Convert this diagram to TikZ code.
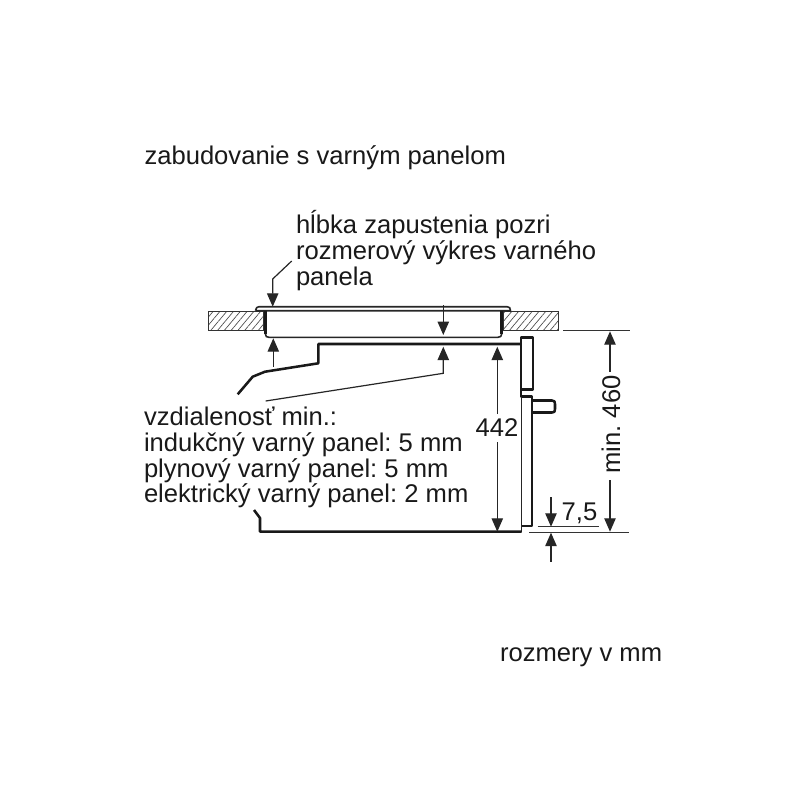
\documentclass[tikz,border=0pt]{standalone}
\usepackage{fontspec}
\setmainfont{Liberation Sans}
\usetikzlibrary{patterns.meta,arrows.meta}
\tikzset{
  lbl/.style={font=\fontsize{19.2pt}{23pt}\selectfont\frenchspacing,text=black!90,inner sep=0pt,outer sep=0pt},
  body/.style={draw=black!90,line width=1.9pt,line join=round},
  panline/.style={draw=black!85,line width=1.2pt,line join=round},
  thin/.style={draw=black!80,line width=0.9pt},
  dim/.style={draw=black!85,line width=0.9pt},
  tip/.style={-{Triangle[length=10pt,width=8.5pt]}},
  hatchbox/.style={draw=black!80,line width=0.8pt,pattern={Lines[angle=50,distance=3.9pt,line width=0.5pt]},pattern color=black!70}
}
\begin{document}
\begin{tikzpicture}[x=0.75pt,y=-0.75pt]
\useasboundingbox (0,0) rectangle (800,800);
\fill[white] (0,0) rectangle (800,800);
\node[lbl,anchor=base west] (title) at (144.5,164) {zabudovanie s varným panelom};
\node[lbl,anchor=base west] (t1) at (296,233) {hĺbka zapustenia pozri};
\node[lbl,anchor=base west] (t2) at (296,259) {rozmerový výkres varného};
\node[lbl,anchor=base west] (t3) at (296,285) {panela};
\node[lbl,anchor=base west] (v1) at (144,425) {vzdialenosť min.:};
\node[lbl,anchor=base west] (v2) at (144,451) {indukčný varný panel: 5 mm};
\node[lbl,anchor=base west] (v3) at (144,477) {plynový varný panel: 5 mm};
\node[lbl,anchor=base west] (v4) at (144,502.5) {elektrický varný panel: 2 mm};
\node[lbl,anchor=base west] (unit) at (500,661) {rozmery v mm};
\node[lbl,anchor=center] (d442) at (497,428) {442};
\node[lbl,anchor=center,rotate=90] (d460) at (611,424.5) {min. 460};
\node[lbl,anchor=base] (d75) at (579.5,520) {7,5};
% counter
\draw[hatchbox] (208.7,311.7) rectangle (263.7,330.7);
\draw[hatchbox] (503.3,311.7) rectangle (558.3,330.7);
% hob
\draw[panline] (255.5,310.7) .. controls (256.5,307.5) and (257,306.7) .. (259,306.7) -- (507,306.7) .. controls (509.5,306.7) and (510.5,308) .. (510.5,310.7) -- (255.5,310.7);
\draw[panline] (265.5,334) .. controls (265.5,336.5) and (266.5,337.3) .. (269,337.3) -- (498,337.3) .. controls (500.5,337.3) and (501.7,336) .. (501.7,334);
\draw[body] (265.5,311) -- (265.5,334);
\draw[body] (501.7,311) -- (501.7,334);
% oven
\draw[body] (237.7,394.3) -- (252.7,376.7) -- (265,371.7) -- (318.3,363.3) -- (318.3,344) -- (521,344);
\draw[body] (521,344) -- (521,337.3) -- (533,337.3) -- (533,389.3) -- (521,389.3) -- (521,344);
\draw[body] (521,389.3) -- (521,396.7) -- (532,396.7) -- (532,526) -- (521.7,526);
\draw[panline] (521.5,396.7) -- (521.5,531.7);
\draw[body] (521.7,531.7) -- (260,531.7) -- (260,518) -- (254,510);
\draw[body] (532,400.5) -- (552,400.5) .. controls (554.5,400.5) and (555,401.5) .. (555,404) -- (555,409) .. controls (555,411.7) and (554.5,412.5) .. (552,412.5) -- (532,412.5);
% leader + dims
\coordinate (ld0) at (291.7,261);
\coordinate (ld1) at (272.7,279);
\coordinate (ld2) at (272.7,306.7);
\draw[dim,tip] (ld0) -- (ld1) -- (ld2);
\coordinate (ua0) at (273.3,366.7);
\coordinate (ua1) at (273.3,338.3);
\draw[dim,tip] (ua0) -- (ua1);
\coordinate (da0) at (443.3,305);
\coordinate (da1) at (443.3,335);
\draw[dim,tip] (da0) -- (da1);
\coordinate (lv0) at (265.7,401);
\coordinate (lv1) at (443.3,373.3);
\coordinate (lv2) at (443.3,346.7);
\draw[dim,tip] (lv0) -- (lv1) -- (lv2);
\coordinate (a1) at (497.3,414); \coordinate (a2) at (497.3,346.7);
\draw[dim,tip] (a1) -- (a2);
\coordinate (a3) at (497.3,442); \coordinate (a4) at (497.3,531.7);
\draw[dim,tip] (a3) -- (a4);
\coordinate (e1) at (563.3,330.7); \coordinate (e2) at (630,330.7);
\draw[thin] (e1) -- (e2);
\coordinate (e3) at (529,532.3); \coordinate (e4) at (629,532.3);
\draw[thin] (e3) -- (e4);
\coordinate (e5) at (537.7,526.7); \coordinate (e6) at (599,526.7);
\draw[thin] (e5) -- (e6);
\coordinate (b1) at (610,371.7); \coordinate (b2) at (610,331.3);
\draw[dim,tip] (b1) -- (b2);
\coordinate (b3) at (610,480); \coordinate (b4) at (610,531.7);
\draw[dim,tip] (b3) -- (b4);
\coordinate (s0) at (551,497.3); \coordinate (s1) at (551,526.7);
\draw[dim,tip] (s0) -- (s1);
\coordinate (s2) at (551,561.7); \coordinate (s3) at (551,532.7);
\draw[dim,tip] (s2) -- (s3);
\end{tikzpicture}
\end{document}
